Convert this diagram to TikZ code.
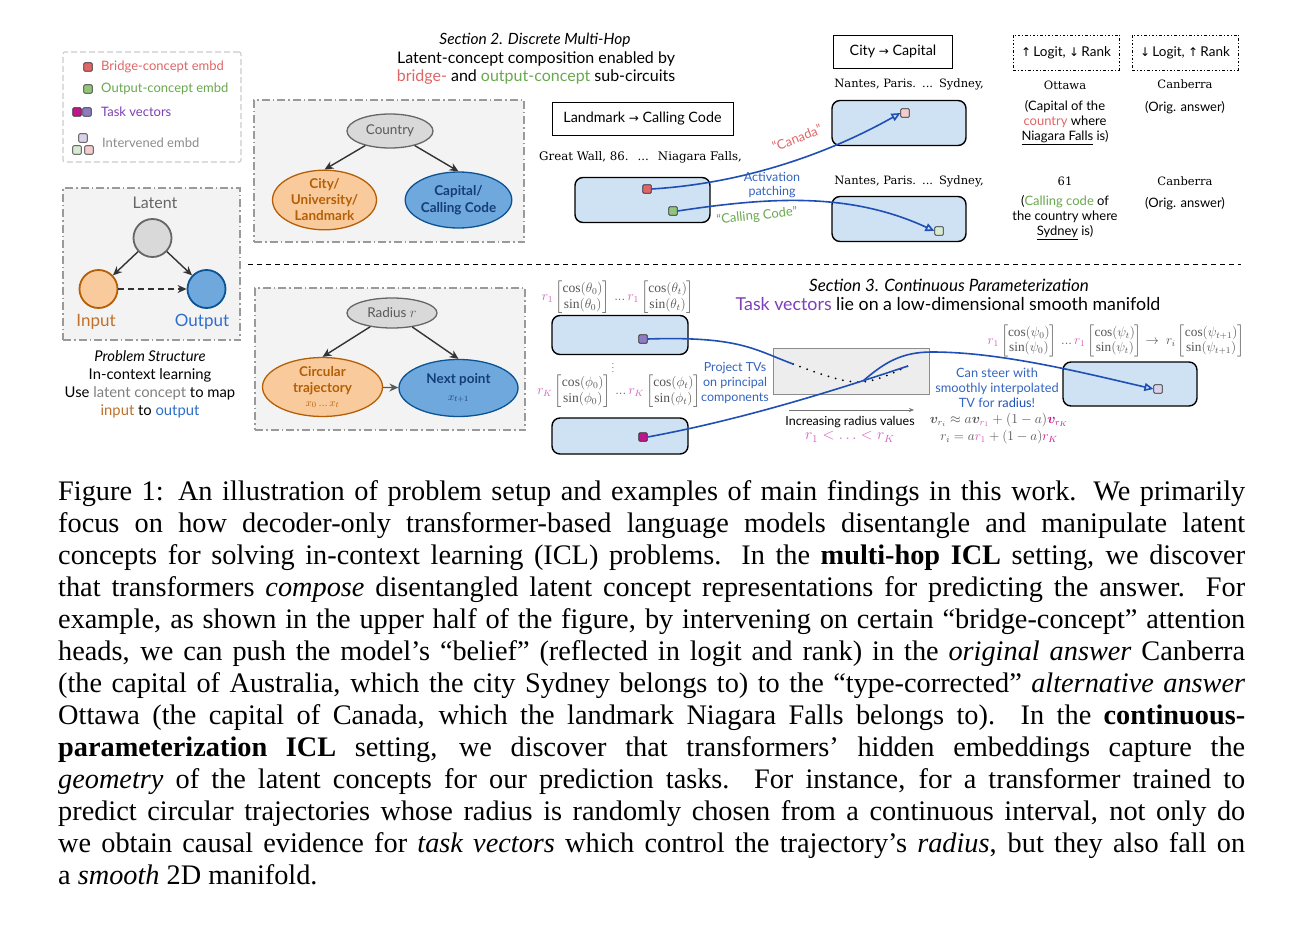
\documentclass[tikz,border=0pt]{standalone}
\usepackage{amsmath,bm,graphicx}
\usepackage{fontspec}
\setmainfont{Liberation Serif}
\newfontfamily\gsans{Lato}
\newfontfamily\slab{DejaVu Serif}
\newfontfamily\dvs{DejaVu Sans}
\usetikzlibrary{arrows.meta,shapes.geometric}
\definecolor{cred}{HTML}{E06666}
\definecolor{cgreen}{HTML}{6AA84F}
\definecolor{cgreensq}{HTML}{93C47D}
\definecolor{cpurple}{HTML}{7E3FB8}
\definecolor{cpurpsq}{HTML}{8E7CC3}
\definecolor{cmag}{HTML}{C0168C}
\definecolor{cpink}{HTML}{F4CCCC}
\definecolor{clgreen}{HTML}{D9EAD3}
\definecolor{clpurp}{HTML}{D9D2E9}
\definecolor{cblue}{HTML}{1F4FB4}
\definecolor{ctblue}{HTML}{3565C0}
\definecolor{boxblue}{HTML}{CFE2F3}
\definecolor{corf}{HTML}{F9CB9C}
\definecolor{cord}{HTML}{B45F06}
\definecolor{cort}{HTML}{C0702A}
\definecolor{cblf}{HTML}{6FA8DC}
\definecolor{cbld}{HTML}{0B5394}
\definecolor{cblt}{HTML}{2F6FC8}
\definecolor{cnavy}{HTML}{153E75}
\definecolor{cgf}{HTML}{D9D9D9}
\definecolor{cgd}{HTML}{666666}
\definecolor{cbg}{HTML}{F3F3F3}
\definecolor{cbgd}{HTML}{9A9A9A}
\definecolor{cleg}{HTML}{CCCCCC}
\definecolor{cmpink}{HTML}{D660BC}
\definecolor{cmath}{HTML}{555555}
\newcommand{\rp}[1]{{\color{cmpink}#1}}
\newcommand{\rk}[1]{{\color{cmag}#1}}
\newcommand{\capfont}{\fontsize{28.3}{32}\selectfont}
\newcommand{\arr}[1]{{\dvs\fontsize{12}{14}\selectfont #1}}
\begin{document}
\begin{tikzpicture}[x=1pt,y=-1pt,
  lbl/.style={inner sep=0, font=\gsans\fontsize{13}{15}\selectfont, align=center},
  small/.style={inner sep=0, font=\gsans\fontsize{13}{15}\selectfont, align=center},
  hdr/.style={inner sep=0, font=\gsans\fontsize{15.5}{19}\selectfont, align=center},
  ser/.style={inner sep=0, font=\slab\fontsize{11.5}{14}\selectfont},
  mth/.style={inner sep=0, text=cmath, font=\fontsize{12}{14}\selectfont},
  sq/.style={draw=black!85, line width=0.7pt, minimum size=8.5pt, inner sep=0, rounded corners=1pt},
  emb/.style={draw=black, line width=1.4pt, fill=boxblue, rounded corners=8pt, inner sep=0},
  cbox/.style={draw=cbgd, fill=cbg, line width=1.1pt, dash pattern=on 8pt off 3pt on 1.5pt off 3pt, inner sep=0},
  plainbox/.style={draw=black, line width=0.8pt, inner sep=0},
  logbox/.style={draw=black, line width=0.7pt, dash pattern=on 2.5pt off 2pt on 1pt off 2pt, inner sep=0},
  narr/.style={-{Stealth[length=9pt,width=8pt]}, line width=1.4pt, draw=black!80},
  conn/.style={line width=1.6pt, draw=cblue},
  connar/.style={conn, -{Triangle[open, length=9pt, width=8pt]}},
  ell/.style={ellipse, inner sep=0, line width=1.3pt},
  capline/.style={anchor=base west, inner sep=0, font=\capfont}
]
\useasboundingbox[fill=white] (0,0) rectangle (1301,931);

% ---------- legend ----------
\node[draw=cleg, line width=1.1pt, dash pattern=on 6pt off 3pt, rounded corners=2pt, minimum width=178pt, minimum height=110pt, inner sep=0] (legend) at (152,107) {};
\node[sq, fill=cred] (lgred) at (88,67) {};
\node[lbl, anchor=west, text=cred] (lgredt) at (101,67) {Bridge-concept embd};
\node[sq, fill=cgreensq] (lggreen) at (88,89) {};
\node[lbl, anchor=west, text=cgreen] (lggreent) at (101,89) {Output-concept embd};
\node[sq, fill=cmag] (lgmag) at (77,112) {};
\node[sq, fill=cpurpsq] (lgpurp) at (87,112) {};
\node[lbl, anchor=west, text=cpurple] (lgtvt) at (101,112) {Task vectors};
\node[sq, fill=clpurp] (lgi1) at (83,138) {};
\node[sq, fill=clgreen] (lgi2) at (77,150) {};
\node[sq, fill=cpink] (lgi3) at (89,150) {};
\node[lbl, anchor=west, text=black!45] (lgit) at (102,143) {Intervened embd};

% ---------- latent structure ----------
\node[cbox, minimum width=177pt, minimum height=152pt] (latbox) at (151.5,264) {};
\node[lbl, font=\gsans\fontsize{16}{18}\selectfont, text=cgd] (latentt) at (155,203) {Latent};
\node[circle, fill=cgf, draw=cgd, line width=1.8pt, minimum size=38pt, inner sep=0] (latent) at (152.5,238) {};
\node[circle, fill=corf, draw=cord, line width=1.8pt, minimum size=38pt, inner sep=0] (input) at (98.5,289) {};
\node[circle, fill=cblf, draw=cbld, line width=1.8pt, minimum size=38pt, inner sep=0] (output) at (206.5,289) {};
\draw[narr] (latent) -- (input);
\draw[narr] (latent) -- (output);
\draw[narr, dash pattern=on 6pt off 4pt] (input) -- (output);
\node[lbl, font=\gsans\fontsize{17}{19}\selectfont, text=cort] (inputt) at (96,322) {Input};
\node[lbl, font=\gsans\fontsize{17}{19}\selectfont, text=cblt] (outputt) at (202,322) {Output};
\node[inner sep=0, font=\gsans\fontsize{14.8}{18}\selectfont, align=center] (probt) at (150,384)
  {\textit{Problem Structure}\\In-context learning\\Use {\color{black!50}latent concept} to map\\{\color{cort}input} to {\color{cblt}output}};

% ---------- country box ----------
\node[cbox, minimum width=270pt, minimum height=142pt] (cbox1) at (389,171) {};
\node[ell, fill=cgf, draw=cgd, minimum width=86pt, minimum height=34pt, font=\gsans\fontsize{13.5}{15}\selectfont, text=black!65] (country) at (390,131) {Country};
\node[ell, fill=corf, draw=cord, minimum width=104pt, minimum height=56pt, align=center, font=\gsans\bfseries\fontsize{13.5}{16}\selectfont, text=cord] (city) at (324.5,200) {City/\\University/\\Landmark};
\node[ell, fill=cblf, draw=cbld, minimum width=104pt, minimum height=56pt, align=center, font=\gsans\bfseries\fontsize{13.5}{17}\selectfont, text=cnavy] (capital) at (458.5,200) {Capital/\\Calling Code};
\draw[narr] (country) -- (city.north);
\draw[narr] (country) -- (capital.north);

% ---------- radius box ----------
\node[cbox, minimum width=270pt, minimum height=142pt] (cbox2) at (390,359) {};
\node[ell, fill=cgf, draw=cgd, minimum width=90pt, minimum height=30pt, font=\gsans\fontsize{13.5}{15}\selectfont, text=black!65] (radius) at (392,313) {Radius $r$};
\node[ell, fill=corf, draw=cord, minimum width=120pt, minimum height=54pt, align=center, font=\gsans\bfseries\fontsize{13.5}{16}\selectfont, text=cord] (circ) at (322.5,387) {Circular\\trajectory\\[-2pt]{\mdseries\fontsize{11}{12}\selectfont$x_0\,...\,x_t$}};
\node[ell, fill=cblf, draw=cbld, minimum width=119pt, minimum height=57pt, align=center, font=\gsans\bfseries\fontsize{13.5}{17}\selectfont, text=cnavy] (next) at (458.5,388) {Next point\\{\mdseries\fontsize{11}{12}\selectfont$x_{t+1}$}};
\draw[narr] (radius) -- (circ.north);
\draw[narr] (radius) -- (next.north);
\draw[narr, draw=black!65] (circ) -- (next);

% ---------- separator ----------
\coordinate (sepL) at (248,264);
\coordinate (sepR) at (1241,264);
\draw[line width=1pt, dash pattern=on 5pt off 4pt] (sepL) -- (sepR);

% ---------- section 2 ----------
\node[hdr] (s2a) at (535,40) {\textit{Section 2. Discrete Multi-Hop}};
\node[hdr, font=\gsans\fontsize{16}{19}\selectfont] (s2b) at (536,58.5) {Latent-concept composition enabled by};
\node[hdr, font=\gsans\fontsize{16}{19}\selectfont] (s2c) at (536,77.5) {{\color{cred}bridge-} and {\color{cgreen}output-concept} sub-circuits};

\node[plainbox, minimum width=181pt, minimum height=33pt, font=\gsans\fontsize{14.3}{16}\selectfont] (lmbox) at (642.5,118.5) {Landmark \arr{→} Calling Code};
\node[ser, anchor=west, font=\slab\fontsize{11.8}{14}\selectfont] (gw) at (539,157) {Great Wall, 86.\hspace{9pt}...\hspace{9pt}Niagara Falls,};
\node[emb, minimum width=135pt, minimum height=45pt] (e1) at (642.5,200) {};
\node[sq, fill=cred] (sred) at (647,189) {};
\node[sq, fill=cgreensq] (sgreen) at (673,211) {};

\node[plainbox, minimum width=119pt, minimum height=33pt, font=\gsans\fontsize{14.3}{16}\selectfont] (ccbox) at (893,51.5) {City \arr{→} Capital};
\node[ser] (np1) at (909,84) {Nantes, Paris.\hspace{6pt}...\hspace{6pt}Sydney,};
\node[emb, minimum width=134pt, minimum height=45pt] (e2) at (899,123) {};
\node[sq, fill=cpink] (spink) at (905,113) {};
\node[ser] (np2) at (909,181) {Nantes, Paris.\hspace{6pt}...\hspace{6pt}Sydney,};
\node[emb, minimum width=134pt, minimum height=45pt] (e3) at (899,219) {};
\node[sq, fill=clgreen] (slgreen) at (939,231) {};

\draw[connar] (sred.east) .. controls (750,183) and (835,150) .. (spink.west);
\draw[connar] (sgreen.east) .. controls (770,197) and (850,192) .. (slgreen.west);
\node[lbl, text=cred, rotate=21] (canada) at (797,138) {“Canada”};
\node[lbl, text=cgreen, rotate=6] (callc) at (757,216) {“Calling Code”};
\node[small, font=\gsans\fontsize{12.5}{14}\selectfont, text=ctblue] (actp) at (772,185) {Activation\\patching};

\node[logbox, minimum width=106pt, minimum height=35pt, font=\gsans\fontsize{13.5}{15}\selectfont] (lb1) at (1066,52.5) {\arr{↑}\,Logit, \arr{↓}\,Rank};
\node[logbox, minimum width=106pt, minimum height=35pt, font=\gsans\fontsize{13.5}{15}\selectfont] (lb2) at (1185,52.5) {\arr{↓}\,Logit, \arr{↑}\,Rank};
\node[ser] (ottawa) at (1065,85) {Ottawa};
\node[small] (ottd) at (1065,123) {(Capital of the\\{\color{cred}country} where\\\underline{Niagara Falls} is)};
\node[ser] (canb1) at (1185,84) {Canberra};
\node[small] (orig1) at (1185,108) {(Orig. answer)};
\node[ser] (sixty) at (1065,181) {61};
\node[small] (sixd) at (1065,218) {({\color{cgreen}Calling code} of\\the country where\\\underline{Sydney} is)};
\node[ser] (canb2) at (1185,181) {Canberra};
\node[small] (orig2) at (1185,204) {(Orig. answer)};

% ---------- section 3 ----------
\node[hdr, font=\gsans\fontsize{17}{19}\selectfont] (s3a) at (949,285) {\textit{Section 3. Continuous Parameterization}};
\node[hdr, font=\gsans\fontsize{17.8}{20}\selectfont] (s3b) at (948,304) {{\color{cpurple}Task vectors} lie on a low-dimensional smooth manifold};

\node[mth] (f1) at (618,297) {\scalebox{1.13}{$\rp{r_1}\begin{bmatrix}\cos(\theta_0)\\ \sin(\theta_0)\end{bmatrix}\,...\,\rp{r_1}\begin{bmatrix}\cos(\theta_t)\\ \sin(\theta_t)\end{bmatrix}$}};
\node[emb, minimum width=136pt, minimum height=39pt] (e4) at (620,335) {};
\node[sq, fill=cpurpsq] (spurp) at (643,339) {};
\node[mth, font=\fontsize{9}{10}\selectfont] (vd) at (613,365) {$\vdots$};
\node[mth] (f2) at (619,391) {\scalebox{1.13}{$\rp{r_K}\begin{bmatrix}\cos(\phi_0)\\ \sin(\phi_0)\end{bmatrix}\,...\,\rp{r_K}\begin{bmatrix}\cos(\phi_t)\\ \sin(\phi_t)\end{bmatrix}$}};
\node[emb, minimum width=136pt, minimum height=36pt] (e5) at (620,436) {};
\node[sq, fill=cmag] (smag) at (643,437) {};

\node[draw=black!45, fill=black!7, line width=0.8pt, minimum width=156pt, minimum height=46pt, inner sep=0] (mani) at (851,371) {};
\coordinate (dotA) at (793,364);
\coordinate (dotB) at (908,366);
\coordinate (steer) at (863,381);
\draw[line width=2pt, line cap=round, dash pattern=on 0pt off 7.5pt] (dotA) .. controls (830,378) and (848,383) .. (863,382) .. controls (880,380) and (895,372) .. (dotB);
\draw[conn] (spurp.east) .. controls (740,336) and (755,350) .. (dotA);
\draw[conn] (smag.east) .. controls (740,420) and (830,392) .. (dotB);

\node[small, font=\gsans\fontsize{12.5}{15}\selectfont, text=ctblue] (proj) at (735,383) {Project TVs\\on principal\\components};
\coordinate (ra1) at (789,410);
\coordinate (ra2) at (914,410);
\draw[-{Stealth[length=5pt,width=4pt]}, draw=black!55, line width=0.6pt] (ra1) -- (ra2);
\node[small, font=\gsans\fontsize{12.5}{15}\selectfont] (incr) at (850,422) {Increasing radius values};
\node[mth, text=cmpink] (ineq) at (850,437) {\scalebox{1.3}{$r_1 < \ldots < r_K$}};

\node[mth] (f3) at (1116,341) {\scalebox{1.11}{$\rp{r_1}\begin{bmatrix}\cos(\psi_0)\\ \sin(\psi_0)\end{bmatrix}\,...\,\rp{r_1}\begin{bmatrix}\cos(\psi_t)\\ \sin(\psi_t)\end{bmatrix}\rightarrow\ r_i\begin{bmatrix}\cos(\psi_{t+1})\\ \sin(\psi_{t+1})\end{bmatrix}$}};
\node[emb, minimum width=134pt, minimum height=44pt] (e6) at (1130,384) {};
\node[sq, fill=clpurp] (stv) at (1158,389) {};
\draw[connar] (steer) .. controls (885,362) and (902,352) .. (932,352) .. controls (1000,352) and (1080,372) .. (stv.west);

\node[small, font=\gsans\fontsize{12.8}{15}\selectfont, text=ctblue] (canst) at (997,388) {Can steer with\\smoothly interpolated\\TV for {\color{cblue}radius}!};
\node[mth] (f4) at (999,420) {\scalebox{1.15}{$\bm{v}_{r_i}\approx a\bm{v}_{\rp{r_1}}+(1-a){\color{cmag}\bm{v}_{r_K}}$}};
\node[mth] (f5) at (999,437) {\scalebox{1.12}{$r_i = a\rp{r_1}+(1-a)\rk{r_K}$}};

% ---------- caption ----------
\node[capline] (cap1) at (58,500) {\makebox[1187pt][s]{Figure 1: An illustration of problem setup and examples of main findings in this work. We primarily}};
\node[capline] (cap2) at (58,532) {\makebox[1187pt][s]{focus on how decoder-only transformer-based language models disentangle and manipulate latent}};
\node[capline] (cap3) at (58,564) {\makebox[1187pt][s]{concepts for solving in-context learning (ICL) problems. In the \textbf{multi-hop ICL} setting, we discover}};
\node[capline] (cap4) at (58,596) {\makebox[1187pt][s]{that transformers \textit{compose} disentangled latent concept representations for predicting the answer. For}};
\node[capline] (cap5) at (58,628) {\makebox[1187pt][s]{example, as shown in the upper half of the figure, by intervening on certain “bridge-concept” attention}};
\node[capline] (cap6) at (58,660) {\makebox[1187pt][s]{heads, we can push the model’s “belief” (reflected in logit and rank) in the \textit{original answer} Canberra}};
\node[capline] (cap7) at (58,692) {\makebox[1187pt][s]{(the capital of Australia, which the city Sydney belongs to) to the “type-corrected” \textit{alternative answer}}};
\node[capline] (cap8) at (58,724) {\makebox[1187pt][s]{Ottawa (the capital of Canada, which the landmark Niagara Falls belongs to). In the \textbf{continuous-}}};
\node[capline] (cap9) at (58,756) {\makebox[1187pt][s]{\textbf{parameterization ICL} setting, we discover that transformers’ hidden embeddings capture the}};
\node[capline] (cap10) at (58,788) {\makebox[1187pt][s]{\textit{geometry} of the latent concepts for our prediction tasks. For instance, for a transformer trained to}};
\node[capline] (cap11) at (58,820) {\makebox[1187pt][s]{predict circular trajectories whose radius is randomly chosen from a continuous interval, not only do}};
\node[capline] (cap12) at (58,852) {\makebox[1187pt][s]{we obtain causal evidence for \textit{task vectors} which control the trajectory’s \textit{radius}, but they also fall on}};
\node[capline] (cap13) at (58,884) {a \textit{smooth} 2D manifold.};
\end{tikzpicture}
\end{document}
